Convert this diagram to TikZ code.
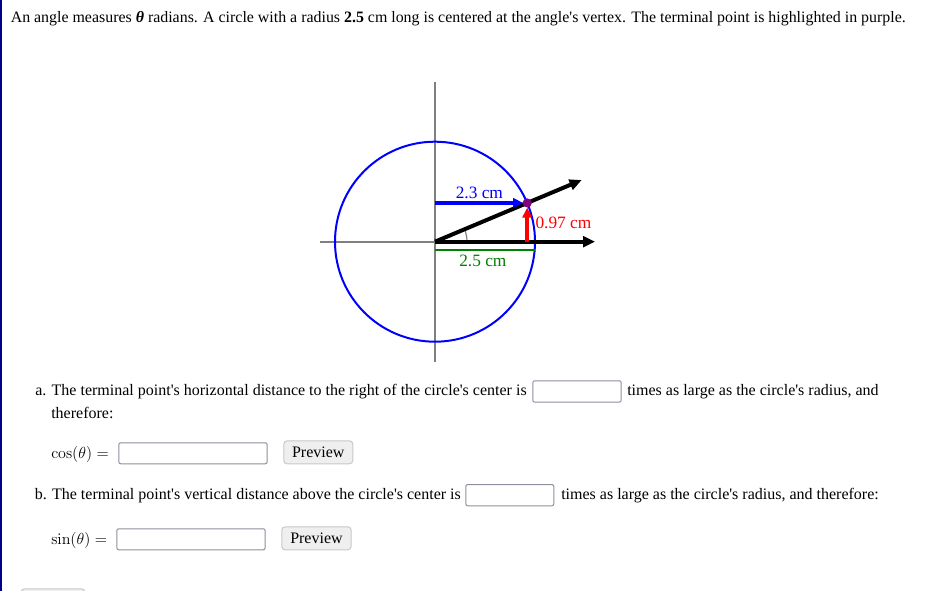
\documentclass[tikz,border=0pt]{standalone}
\usepackage[no-math]{fontspec}
\setmainfont{Liberation Serif}[Ligatures=TeXOff]
\usetikzlibrary{arrows.meta}
\definecolor{navyb}{RGB}{0,0,139}
\definecolor{axisgray}{RGB}{128,128,128}
\definecolor{pblue}{RGB}{0,0,255}
\definecolor{pred}{RGB}{255,0,0}
\definecolor{pgreen}{RGB}{0,128,0}
\definecolor{ppurple}{RGB}{128,0,128}
\definecolor{boxborder}{RGB}{143,143,157}
\definecolor{btnfill}{RGB}{239,239,239}
\definecolor{btnborder}{RGB}{200,200,200}
\begin{document}
\begin{tikzpicture}[x=0.75pt,y=-0.75pt,
  txt/.style={anchor=base west,inner sep=0pt,font=\fontsize{12}{14}\selectfont},
  mth/.style={anchor=base west,inner sep=0pt,font=\fontsize{12.5}{15}\selectfont},
  lbl/.style={anchor=base west,inner sep=0pt,font=\fontsize{13}{15}\selectfont},
  inbox/.style={draw=boxborder,line width=0.75pt,fill=white,rounded corners=1.5pt,inner sep=0pt,anchor=north west},
  btn/.style={draw=btnborder,line width=0.75pt,fill=btnfill,rounded corners=2.5pt,inner sep=0pt,anchor=north west,font=\fontsize{12}{14}\selectfont},
  axisline/.style={draw=axisgray,line width=1.5pt},
  tri/.style={-{Triangle[length=9pt,width=8pt]}},
  smalltri/.style={-{Triangle[length=7.5pt,width=7pt]}}]
\useasboundingbox (0,0) rectangle (946,591);
\clip (0,0) rectangle (946,591);
% left border
\fill[navyb] (0,0) rectangle (2,591);
% title
\node[txt,font=\fontsize{11.93}{14}\selectfont] (title) at (10.5,22.5) {An angle measures \textbf{\textit{θ}} radians. A circle with a radius \textbf{2.5} cm long is centered at the angle's vertex. The terminal point is highlighted in purple.};
% diagram coordinates
\coordinate (O) at (435,241.7);
\coordinate (P) at (527.2,202.95);
\coordinate (rayend) at (581.6,180.1);
\coordinate (xend) at (595,241.7);
\coordinate (xstart) at (320,241.7);
\coordinate (ytop) at (435,82);
\coordinate (ybot) at (435,362);
\coordinate (blueS) at (435,202.95);
\coordinate (redS) at (527.2,241.7);
\coordinate (greenS) at (435,250);
\coordinate (greenE) at (535,250);
% axes
\draw[axisline] (ytop) -- (ybot);
\draw[axisline] (xstart) -- (O);
% circle
\draw[pblue,line width=1.5pt] (O) circle[radius=100];
% angle arc
\draw[axisgray,line width=0.9pt] (O) ++(32,0) arc[start angle=0,end angle=-22.8,radius=32];
% green radius segment
\draw[pgreen,line width=2pt] (greenS) -- (greenE);
% black rays
\draw[black,line width=3pt,tri] (O) -- (xend);
\draw[black,line width=3pt,tri] (O) -- (rayend);
% blue and red arrows
\draw[pblue,line width=2.8pt,smalltri,shorten >=3pt] (blueS) -- (P);
\draw[pred,line width=3pt,smalltri,shorten >=3.5pt] (redS) -- (P);
% terminal point
\fill[ppurple] (P) circle[radius=4.6];
% labels
\node[lbl,text=pblue] (l23) at (455.5,198.8) {2.3 cm};
\node[lbl,text=pred] (l097) at (535.3,229) {0.97 cm};
\node[lbl,text=pgreen] (l25) at (459,266.5) {2.5 cm};
% part a
\node[txt] (atext) at (35,395.5) {a. The terminal point's horizontal distance to the right of the circle's center is};
\node[inbox,minimum width=66.3pt,minimum height=16pt] (abox) at (532.3,380.3) {};
\node[txt] (atext2) at (627,395.5) {times as large as the circle's radius, and};
\node[txt] (athere) at (51,418.5) {therefore:};
\node[mth] (cos) at (51,458.5) {$\cos(\theta)=$};
\node[inbox,minimum width=111.3pt,minimum height=15.75pt] (cosbox) at (118.3,442.3) {};
\node[btn,minimum width=51.75pt,minimum height=17.25pt] (prev1) at (283.3,440.3) {Preview};
% part b
\node[txt] (btext) at (34.5,499.5) {b. The terminal point's vertical distance above the circle's center is};
\node[inbox,minimum width=66pt,minimum height=16pt] (bbox) at (465.3,484) {};
\node[txt] (btext2) at (561,499.5) {times as large as the circle's radius, and therefore:};
\node[mth] (sin) at (51,544.5) {$\sin(\theta)=$};
\node[inbox,minimum width=111.3pt,minimum height=15.75pt] (sinbox) at (116.3,528.3) {};
\node[btn,minimum width=52pt,minimum height=17.25pt] (prev2) at (281.3,526.3) {Preview};
% partial button at bottom
\node[btn,minimum width=47.7pt,minimum height=20pt] (bottombtn) at (20.7,588.3) {};
\end{tikzpicture}
\end{document}
